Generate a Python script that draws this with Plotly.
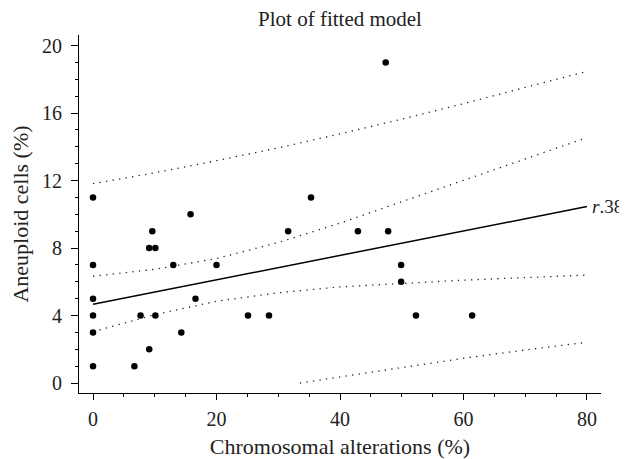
import plotly.graph_objects as go

# Observed data points (Chromosomal alterations %, Aneuploid cells %)
chrom_alt = [0, 0, 0, 0, 0, 0, 6.7, 7.7, 9.1, 9.1, 9.6, 10.1, 10.1, 13.0, 14.3,
             15.8, 16.6, 20.0, 25.1, 28.5, 31.6, 35.3, 42.9, 47.4, 47.8, 49.9,
             49.9, 52.3, 61.4]
aneuploid = [11, 7, 5, 4, 3, 1, 1, 4, 2, 8, 9, 8, 4, 7, 3,
             10, 5, 7, 4, 4, 9, 11, 9, 19, 9, 7,
             6, 4, 4]

# Fitted line and bands
band_x = [0, 10, 20, 30, 40, 50, 60, 70, 80]
fit_y = [4.67, 5.39, 6.12, 6.84, 7.57, 8.29, 9.01, 9.74, 10.46]
conf_upper = [6.33, 6.74, 7.38, 8.33, 9.48, 10.75, 12.00, 13.25, 14.55]
conf_lower = [3.04, 4.05, 4.85, 5.35, 5.70, 5.92, 6.10, 6.25, 6.40]
pred_upper = [11.82, 12.46, 13.18, 13.94, 14.77, 15.64, 16.56, 17.52, 18.48]
pred_lower_x = [33.5, 40, 50, 60, 70, 80]
pred_lower = [0.0, 0.37, 0.94, 1.47, 1.96, 2.42]

x_ticks = [0, 20, 40, 60, 80]
y_ticks = [0, 4, 8, 12, 16, 20]

FONT = "Liberation Serif"
TXT = "#222222"
dot = dict(color="#222222", width=1.3, dash="1.3px,5.3px")

fig = go.Figure()
for yy in (pred_upper, conf_upper, conf_lower):
    fig.add_trace(go.Scatter(x=band_x, y=yy, mode="lines", line=dot,
                             hoverinfo="skip", showlegend=False))
fig.add_trace(go.Scatter(x=pred_lower_x, y=pred_lower, mode="lines", line=dot,
                         hoverinfo="skip", showlegend=False))
fig.add_trace(go.Scatter(x=band_x, y=fit_y, mode="lines",
                         line=dict(color="black", width=1.5), showlegend=False))
fig.add_trace(go.Scatter(x=chrom_alt, y=aneuploid, mode="markers",
                         marker=dict(color="black", size=6.5), showlegend=False))

fig.add_annotation(x=band_x[-1], y=fit_y[-1], xref="x", yref="y",
                   text="<i>r</i>.38", showarrow=False, xanchor="left",
                   yanchor="middle", xshift=4, borderpad=0,
                   font=dict(family=FONT, size=19, color=TXT))

# page has an 8px body margin, so the figure is sized to fit the window
fig.update_layout(
    width=619, height=451,
    margin=dict(l=71, r=26, t=27, b=66, autoexpand=False),
    paper_bgcolor="white", plot_bgcolor="white",
    font=dict(family=FONT, size=20, color=TXT),
    title=dict(text="Plot of fitted model", x=0.5, xref="paper",
               y=1 - 11 / 451, yanchor="middle", automargin=False,
               font=dict(family=FONT, size=21, color=TXT)),
    xaxis=dict(range=[-2.27, 82.27], tickvals=x_ticks, ticks="outside",
               ticklen=6, tickwidth=1, tickcolor="black",
               showline=True, linecolor="black", linewidth=1.2,
               showgrid=False, zeroline=False, automargin=False,
               minor=dict(dtick=5, tick0=0, ticks="outside", ticklen=3,
                          tickcolor="black", tickwidth=1, showgrid=False),
               ticklabelstandoff=2,
               tickfont=dict(family=FONT, size=20, color=TXT),
               title=dict(text="Chromosomal alterations (%)", standoff=10,
                          font=dict(family=FONT, size=22, color=TXT))),
    yaxis=dict(range=[-0.59, 20.63], tickvals=y_ticks, ticks="outside",
               ticklen=7, tickwidth=1, tickcolor="black",
               showline=True, linecolor="black", linewidth=1.2,
               showgrid=False, zeroline=False, automargin=False,
               minor=dict(dtick=1, tick0=0, ticks="outside", ticklen=3,
                          tickcolor="black", tickwidth=1, showgrid=False),
               ticklabelstandoff=5,
               tickfont=dict(family=FONT, size=20, color=TXT),
               title=dict(text="Aneuploid cells (%)", standoff=8,
                          font=dict(family=FONT, size=22, color=TXT))),
)

fig.write_html("out.html")
